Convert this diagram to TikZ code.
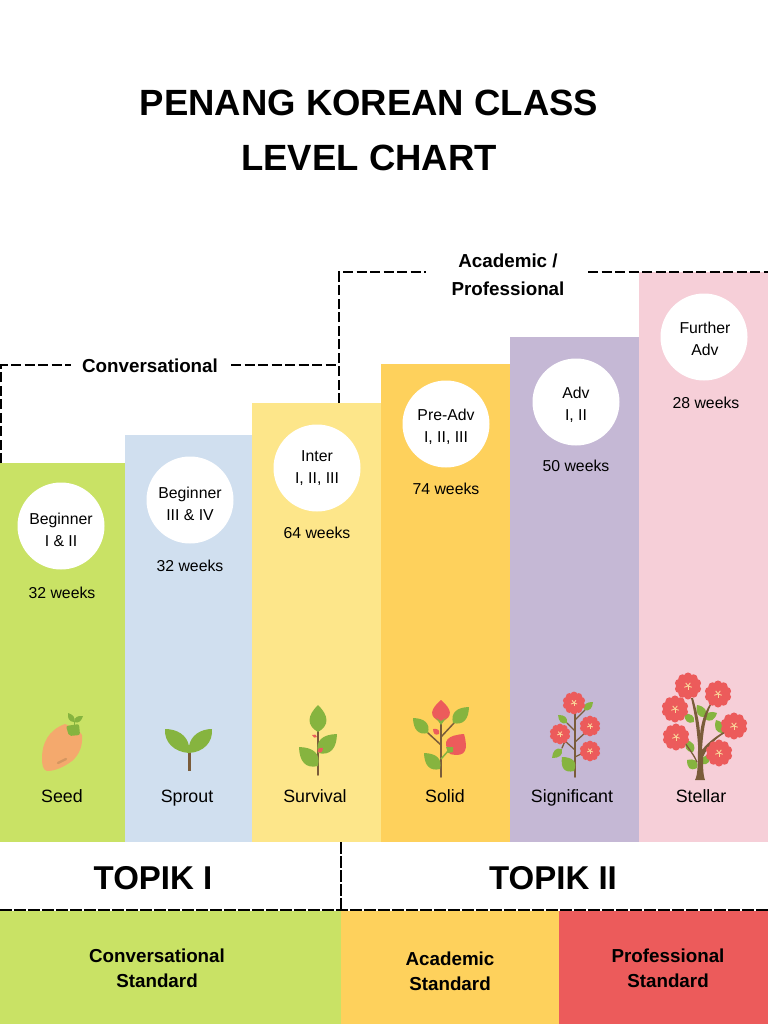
\documentclass[tikz,border=0pt]{standalone}
\usepackage{fontspec}
\setmainfont{Liberation Sans}
\usetikzlibrary{calc}
\definecolor{cgreen}{HTML}{C9E265}
\definecolor{cblue}{HTML}{D0DFEF}
\definecolor{cyellow}{HTML}{FDE68A}
\definecolor{corange}{HTML}{FED15C}
\definecolor{cpurple}{HTML}{C5B8D5}
\definecolor{cpink}{HTML}{F6CFD8}
\definecolor{cred}{HTML}{EC5B5B}
\definecolor{cleaf}{HTML}{86B43F}
\definecolor{cseed}{HTML}{F4A96D}
\definecolor{cstem}{HTML}{7A5C3A}
\definecolor{cstar}{HTML}{FBD79A}
\tikzset{
  lbl/.style={align=center,inner sep=0pt,font=\fontsize{15.8}{22}\selectfont,text=black},
  lab/.style={anchor=base,align=center,inner sep=0pt,font=\fontsize{17.8}{22}\selectfont,text=black},
  stdl/.style={align=center,inner sep=0pt,font=\bfseries\fontsize{18.8}{25}\selectfont,text=black},
  topik/.style={inner sep=0pt,font=\bfseries\fontsize{33}{40}\selectfont,text=black},
  bubble/.style={circle,fill=white,minimum size=87pt,inner sep=0pt},
  dashln/.style={line width=1.8pt,black,dash pattern=on 10pt off 3.5pt},
  stemln/.style={cstem,line cap=round},
}
\newcommand{\lf}[3]{\fill[cleaf] (#1) .. controls ($(#1)!.25!(#2)!#3*2.2!90:(#2)$) and ($(#1)!.62!(#2)!#3*3.8!90:(#2)$) .. (#2) .. controls ($(#1)!.62!(#2)!#3*3.8!-90:(#2)$) and ($(#1)!.25!(#2)!#3*2.2!-90:(#2)$) .. (#1) -- cycle;}
\newcommand{\bud}[3]{\fill[cred] (#1) .. controls ($(#1)!.25!(#2)!#3*2.4!90:(#2)$) and ($(#1)!.6!(#2)!#3*3.4!90:(#2)$) .. (#2) .. controls ($(#1)!.6!(#2)!#3*3.4!-90:(#2)$) and ($(#1)!.25!(#2)!#3*2.4!-90:(#2)$) .. (#1) -- cycle;}
\newcommand{\flwr}[3]{%
  \begin{scope}[shift={(#1,#2)}]
    \fill[cred] (0,0) circle[radius=.74*#3];
    \foreach \a in {0,36,...,324}{\fill[cred] (\a+18:.72*#3) circle[radius=.32*#3];}
    \foreach \a in {18,90,162,234,306}{\draw[cstar,line width=.9pt] (0,0) -- (\a:.3*#3);}
  \end{scope}}
\begin{document}
\begin{tikzpicture}[x=1pt,y=-1pt]
\useasboundingbox (0,0) rectangle (768,1024);
\fill[white] (0,0) rectangle (768,1024);
% columns
\fill[cgreen]  (0,463) rectangle (125,842);
\fill[cblue]   (125,435) rectangle (252,842);
\fill[cyellow] (252,403) rectangle (381,842);
\fill[corange] (381,364) rectangle (510,842);
\fill[cpurple] (510,337) rectangle (639,842);
\fill[cpink]   (639,272) rectangle (768,842);
% bottom bands
\fill[cgreen]  (0,911) rectangle (341,1024);
\fill[corange] (341,911) rectangle (559,1024);
\fill[cred]    (559,911) rectangle (768,1024);
% title
\node[inner sep=0pt,font=\bfseries\fontsize{36.5}{44}\selectfont] (t1) at (369,103) {PENANG KOREAN CLASS};
\node[inner sep=0pt,font=\bfseries\fontsize{36.5}{44}\selectfont] (t2) at (369,158) {LEVEL CHART};
% bubbles
\node[bubble] (b1) at (61,526) {};
\node[bubble] (b2) at (190,500) {};
\node[bubble] (b3) at (317,468) {};
\node[bubble] (b4) at (446,424) {};
\node[bubble] (b5) at (576,402) {};
\node[bubble] (b6) at (704,337) {};
\node[lbl] (n1) at (61,529.5) {Beginner\\I \& II};
\node[lbl] (n2) at (190,503.5) {Beginner\\III \& IV};
\node[lbl] (n3) at (317,468.5) {Inter\\I, II, III};
\node[lbl] (n4) at (446,426.5) {Pre-Adv\\I, II, III};
\node[lbl] (n5) at (576,405) {Adv\\I, II};
\node[lbl] (n6) at (705,339) {Further\\Adv};
% weeks
\node[lbl] (w1) at (62,593) {32 weeks};
\node[lbl] (w2) at (190,566) {32 weeks};
\node[lbl] (w3) at (317,533) {64 weeks};
\node[lbl] (w4) at (446,489) {74 weeks};
\node[lbl] (w5) at (576,466) {50 weeks};
\node[lbl] (w6) at (706,403) {28 weeks};
% stage names
\node[lab] (s1) at (62,802) {Seed};
\node[lab] (s2) at (187,802) {Sprout};
\node[lab] (s3) at (315,802) {Survival};
\node[lab] (s4) at (445,802) {Solid};
\node[lab] (s5) at (572,802) {Significant};
\node[lab] (s6) at (701,802) {Stellar};
% brackets
\node[stdl] (conv) at (150,365.5) {Conversational};
\node[stdl] (acad) at (508,274.5) {Academic /\\[3pt]Professional};
\coordinate (c0) at (1,463);
\coordinate (c1) at (1,365);
\coordinate (c2) at (71,365);
\coordinate (c3) at (231,365);
\coordinate (c4) at (339,365);
\coordinate (a0) at (339,403);
\coordinate (a1) at (339,272);
\coordinate (a2) at (426,272);
\coordinate (a3) at (588,272);
\coordinate (a4) at (768,272);
\draw[dashln] (c0) -- (c1) -- (c2);
\draw[dashln] (c3) -- (c4);
\draw[dashln] (a0) -- (a1) -- (a2);
\draw[dashln] (a3) -- (a4);
% TOPIK
\node[topik] (tp1) at (153,878) {TOPIK I};
\node[topik] (tp2) at (553,878) {TOPIK II};
\coordinate (d0) at (341,842);
\coordinate (d1) at (341,910);
\coordinate (e0) at (0,910);
\coordinate (e1) at (768,910);
\draw[line width=1.8pt,black,dash pattern=on 12pt off 2pt] (d0) -- (d1);
\draw[line width=1.8pt,black,dash pattern=on 12pt off 2pt] (e0) -- (e1);
\node[stdl] (st1) at (157,968) {Conversational\\Standard};
\node[stdl] (st2) at (450,971) {Academic\\Standard};
\node[stdl] (st3) at (668,968) {Professional\\Standard};
% --- Seed
\fill[cseed] (65,724) .. controls (72,727) and (80,730) .. (82,735) .. controls (83,746) and (79,755) .. (72,761) .. controls (64,767) and (55,771) .. (47,771) .. controls (43,770) and (42,765) .. (42,758) .. controls (42,744) and (48,730) .. (65,724) -- cycle;
\fill[cleaf,rounded corners=2pt] (66,726) -- (79,724) -- (80,735) -- (69,736) -- cycle;
\draw[cleaf,line width=1pt] (74,722) -- (74,725);
\lf{74,722}{68,713}{.22}
\lf{74,722}{83,716}{.22}
\draw[line width=2.4pt,color=cseed!75!cstem,line cap=round] (58,763) -- (66,759);
% --- Sprout
\draw[stemln,line width=3pt,line cap=butt] (189,750) -- (189,771);
\fill[cleaf] (165,729) .. controls (177,729) and (187,735) .. (189,746) .. controls (191,735) and (201,729) .. (212,729) .. controls (213,742) and (204,752) .. (189,753) .. controls (174,752) and (164,742) .. (165,729) -- cycle;
% --- Survival
\draw[stemln,line width=1.8pt] (318,730) -- (318,775);
\lf{318,732}{318,705}{.27}
\lf{318,753}{337,734}{.25}
\lf{318,766}{299,747}{.25}
\bud{317,737}{312,735}{.25}
\bud{318,752}{323,748}{.3}
% --- Solid
\draw[stemln,line width=1.8pt] (441,720) -- (441,777);
\draw[stemln,line width=1.5pt] (441,737) -- (454,723);
\draw[stemln,line width=1.5pt] (441,745) -- (428,733);
\draw[cleaf,line width=1.5pt] (441,759) -- (449,750);
\lf{453,723}{469,707}{.25}
\lf{428,733}{413,718}{.25}
\lf{440,769}{424,753}{.25}
\bud{441,722}{441,700}{.34}
\fill[cleaf] (436,718) -- (441,721) -- (446,718) -- (441,725) -- cycle;
\bud{450,754}{464,734}{.36}
\fill[cleaf] (446,747) -- (453,747) -- (453,752) -- (448,753) -- cycle;
\bud{439,734}{433,729}{.3}
% --- Significant
\draw[stemln,line width=1.6pt] (575,710) -- (575,777);
\draw[stemln,line width=1.3pt] (575,720) -- (585,710);
\draw[stemln,line width=1.3pt] (575,731) -- (567,723);
\draw[stemln,line width=1.3pt] (575,742) -- (585,733);
\draw[stemln,line width=1.3pt] (575,750) -- (565,741) -- (562,748);
\draw[stemln,line width=1.3pt] (575,757) -- (583,753);
\lf{584,710}{593,702}{.25}
\lf{567,723}{558,715}{.25}
\lf{562,749}{552,758}{.25}
\lf{574,771}{562,757}{.3}
\flwr{574}{703}{11}
\flwr{590}{726}{10}
\flwr{560}{734}{10}
\flwr{590}{751}{10}
% --- Stellar
\lf{705,717}{697,705}{.27}
\lf{705,719}{717,713}{.27}
\lf{694,722}{684,714}{.27}
\lf{723,733}{716,720}{.27}
\lf{693,752}{686,740}{.27}
\lf{697,768}{687,760}{.33}
\lf{702,764}{710,755}{.27}
\fill[cstem] (695,780) .. controls (698,775) and (698,760) .. (698,745) .. controls (697,730) and (695,715) .. (691,698) -- (693,698) .. controls (697,712) and (700,725) .. (700,735) .. controls (701,722) and (705,712) .. (710,704) -- (711,705) .. controls (706,715) and (703,730) .. (702,750) .. controls (708,742) and (718,735) .. (725,731) -- (725,733) .. controls (716,738) and (708,746) .. (703,757) .. controls (703,765) and (703,775) .. (705,780) -- cycle;
\draw[stemln,line width=1.3pt] (697,762) .. controls (694,755) and (689,749) .. (685,743);
\flwr{688}{686}{13}
\flwr{718}{694}{13}
\flwr{675}{709}{13}
\flwr{734}{726}{13}
\flwr{676}{737}{13}
\flwr{719}{753}{13}
\end{tikzpicture}
\end{document}
